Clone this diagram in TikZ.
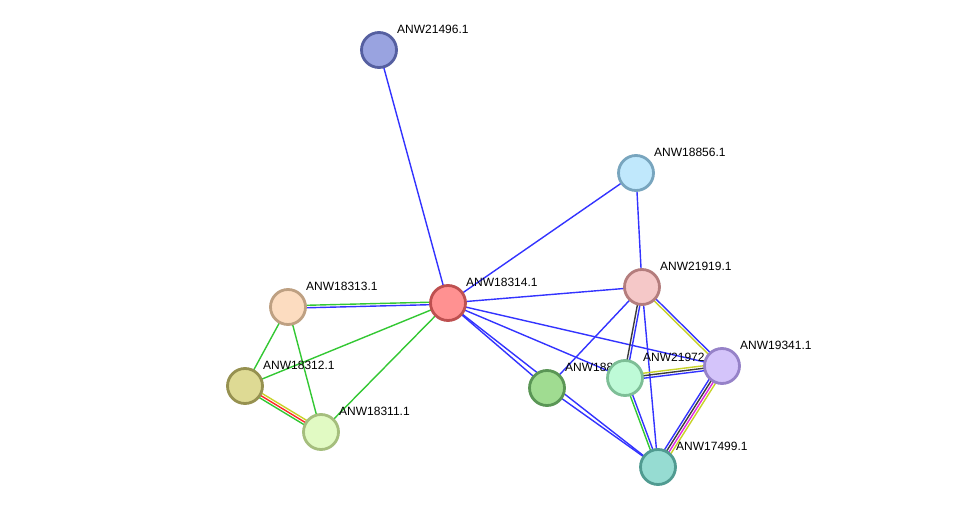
\documentclass[tikz,border=0pt]{standalone}
\usepackage{fontspec}
\setmainfont{Liberation Sans}
\usetikzlibrary{calc}
\pgfdeclarelayer{bg}
\pgfsetlayers{bg,main}
\definecolor{eblue}{RGB}{51,51,255}
\definecolor{egreen}{RGB}{51,200,51}
\definecolor{eyellow}{RGB}{200,210,40}
\definecolor{ered}{RGB}{255,40,40}
\definecolor{eblack}{RGB}{60,60,60}
\definecolor{emag}{RGB}{225,40,225}
\newcommand\pline[4]{\draw[edge,#4] ($(#1)!#3!90:(#2)$) -- ($(#2)!#3!-90:(#1)$);}
\begin{document}
\begin{tikzpicture}[x=1pt,y=-1pt,
  prot/.style={circle,minimum size=35pt,inner sep=0pt,line width=2.8pt},
  lab/.style={anchor=west,inner sep=0pt,font=\fontsize{12}{14}\selectfont},
  edge/.style={line width=1.4pt}]
\useasboundingbox (0,0) rectangle (976,513);

% nodes
\node[prot,fill={rgb,255:red,153;green,163;blue,224},draw={rgb,255:red,85;green,95;blue,160}] (A) at (379,50) {};
\node[lab] (LA) at (397,29) {ANW21496.1};
\node[prot,fill={rgb,255:red,192;green,232;blue,252},draw={rgb,255:red,120;green,165;blue,190}] (B) at (636,173) {};
\node[lab] (LB) at (654,152) {ANW18856.1};
\node[prot,fill={rgb,255:red,245;green,200;blue,200},draw={rgb,255:red,180;green,125;blue,125}] (C) at (642,287) {};
\node[lab] (LC) at (660,266) {ANW21919.1};
\node[prot,fill={rgb,255:red,255;green,145;blue,145},draw={rgb,255:red,190;green,80;blue,80}] (D) at (448,303) {};
\node[lab] (LD) at (466,282) {ANW18314.1};
\node[prot,fill={rgb,255:red,252;green,220;blue,192},draw={rgb,255:red,190;green,160;blue,130}] (E) at (288,307) {};
\node[lab] (LE) at (306,286) {ANW18313.1};
\node[prot,fill={rgb,255:red,222;green,218;blue,148},draw={rgb,255:red,150;green,145;blue,80}] (F) at (245,386) {};
\node[lab] (LF) at (263,365) {ANW18312.1};
\node[prot,fill={rgb,255:red,225;green,250;blue,195},draw={rgb,255:red,165;green,190;blue,125}] (G) at (321,432) {};
\node[lab] (LG) at (339,411) {ANW18311.1};
\node[prot,fill={rgb,255:red,160;green,220;blue,145},draw={rgb,255:red,90;green,150;blue,85}] (H) at (547,388) {};
\node[lab] (LH) at (565,367) {ANW18857.1};
\node[prot,fill={rgb,255:red,190;green,250;blue,215},draw={rgb,255:red,125;green,190;blue,150}] (I) at (625,378) {};
\node[lab] (LI) at (643,357) {ANW21972.1};
\node[prot,fill={rgb,255:red,212;green,196;blue,250},draw={rgb,255:red,150;green,130;blue,200}] (J) at (722,366) {};
\node[lab] (LJ) at (740,345) {ANW19341.1};
\node[prot,fill={rgb,255:red,150;green,220;blue,210},draw={rgb,255:red,80;green,155;blue,145}] (K) at (658,467) {};
\node[lab] (LK) at (676,446) {ANW17499.1};

\begin{pgfonlayer}{bg}
\fill[white] (0,0) rectangle (976,513);
\pline{A}{D}{0pt}{eblue}
\pline{B}{D}{0pt}{eblue}
\pline{B}{C}{0pt}{eblue}
\pline{D}{C}{0pt}{eblue}
\pline{E}{D}{1.25pt}{egreen}
\pline{E}{D}{-1.25pt}{eblue}
\pline{D}{F}{0pt}{egreen}
\pline{D}{G}{0pt}{egreen}
\pline{E}{F}{0pt}{egreen}
\pline{E}{G}{0pt}{egreen}
\pline{F}{G}{2.5pt}{eyellow}
\pline{F}{G}{0pt}{ered}
\pline{F}{G}{-2.5pt}{egreen}
\pline{D}{J}{0pt}{eblue}
\pline{D}{I}{0pt}{eblue}
\pline{D}{H}{0pt}{eblue}
\pline{D}{K}{0pt}{eblue}
\pline{H}{K}{0pt}{eblue}
\pline{C}{H}{0pt}{eblue}
\pline{C}{I}{-1.25pt}{eblack}
\pline{C}{I}{1.25pt}{eblue}
\pline{C}{K}{0pt}{eblue}
\pline{C}{J}{1.25pt}{eblue}
\pline{C}{J}{-1.25pt}{eyellow}
\pline{I}{J}{2.5pt}{eyellow}
\pline{I}{J}{0pt}{eblack}
\pline{I}{J}{-2.5pt}{eblue}
\pline{I}{K}{-1.25pt}{egreen}
\pline{I}{K}{1.25pt}{eblue}
\pline{J}{K}{-3.75pt}{eblue}
\pline{J}{K}{-1.25pt}{eblack}
\pline{J}{K}{1.25pt}{emag}
\pline{J}{K}{3.75pt}{eyellow}
\end{pgfonlayer}
\end{tikzpicture}
\end{document}
